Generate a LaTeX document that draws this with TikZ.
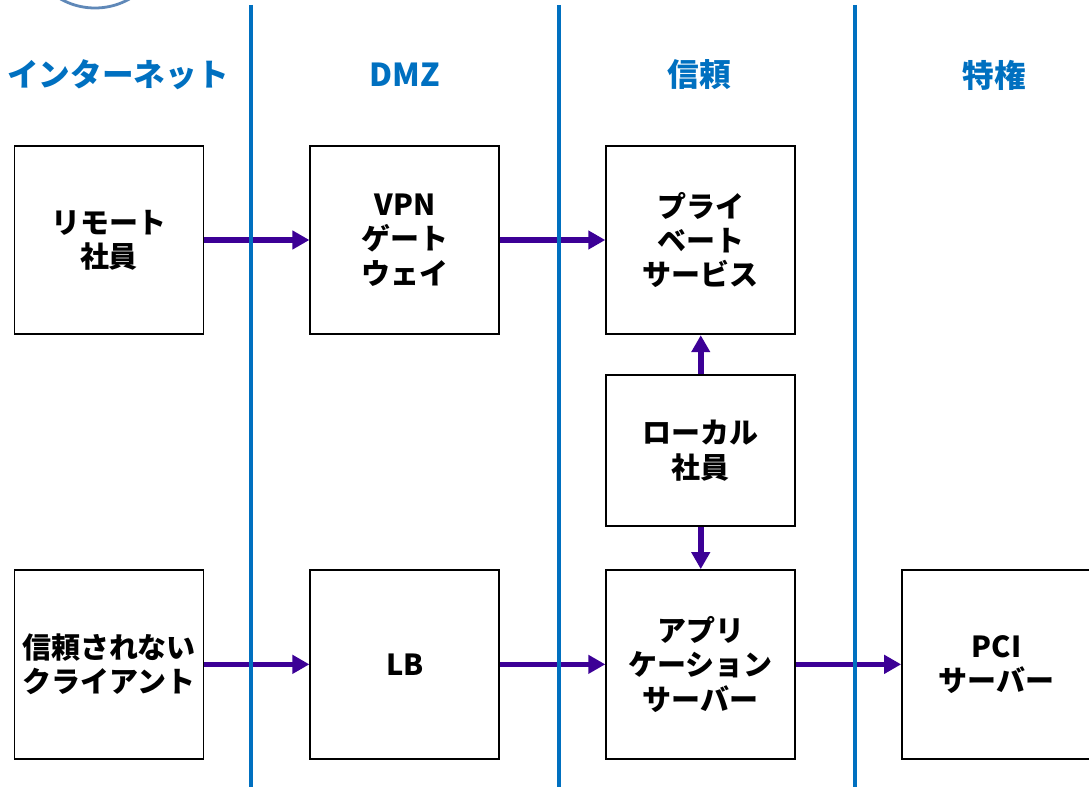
\documentclass[tikz,border=0pt]{standalone}
\usepackage{fontspec}
\setmainfont{Noto Sans CJK JP}
\usetikzlibrary{positioning,arrows.meta}
\definecolor{zoneblue}{HTML}{0070C0}
\definecolor{flowpurple}{HTML}{3C0096}
\definecolor{ringblue}{HTML}{5F88B8}
\tikzset{
  sysbox/.style={draw, line width=1.1pt, fill=white, minimum width=3.78cm, minimum height=3.77cm, align=center, font=\bfseries\fontsize{16.5}{19.5}\selectfont},
  zonehead/.style={text=zoneblue, font=\bfseries\fontsize{18}{22}\selectfont},
  flow/.style={draw=flowpurple, line width=3.2pt, -{Triangle[length=0.34cm,width=0.36cm]}},
  divider/.style={draw=zoneblue, line width=2.8pt}
}
\begin{document}
\begin{tikzpicture}[x=0.02cm, y=-0.02cm, node distance=2.1cm]
  \useasboundingbox (0,0) rectangle (1089,787);
  \clip (0,0) rectangle (1089,787);
  \draw[ringblue, line width=1.6pt] (95,-62) circle (70);

  % zone headers
  \node[zonehead] (internet) at (118,75) {インターネット};
  \node[zonehead] (dmz) at (405,75) {DMZ};
  \node[zonehead] (trusted) at (699,75) {信頼};
  \node[zonehead] (privileged) at (994,75) {特権};

  % top row
  \node[sysbox] (remote) at (109,240) {リモート\\社員};
  \node[sysbox, right=of remote] (vpn) {VPN\\ゲート\\ウェイ};
  \node[sysbox, right=of vpn] (private) {プライ\\ベート\\サービス};
  \node[sysbox, below=0.78cm of private, minimum height=3.02cm] (local) {ローカル\\社員};

  % bottom row
  \node[sysbox, below=4.68cm of remote] (untrusted) {信頼されない\\クライアント};
  \node[sysbox, right=of untrusted] (lb) {LB};
  \node[sysbox, right=of lb] (app) {アプリ\\ケーション\\サーバー};
  \node[sysbox, right=of app] (pci) {PCI\\サーバー};

  \draw[flow] (remote) -- (vpn);
  \draw[flow] (vpn) -- (private);
  \draw[flow] (local) -- (private);
  \draw[flow] (local) -- (app);
  \draw[flow] (untrusted) -- (lb);
  \draw[flow] (lb) -- (app);
  \draw[flow] (app) -- (pci);

  % zone borders
  \foreach \x/\name in {251/a, 559/b, 855/c} {
    \coordinate (top\name) at (\x,5);
    \coordinate (bot\name) at (\x,787);
    \draw[divider] (top\name) -- (bot\name);
  }
\end{tikzpicture}
\end{document}
